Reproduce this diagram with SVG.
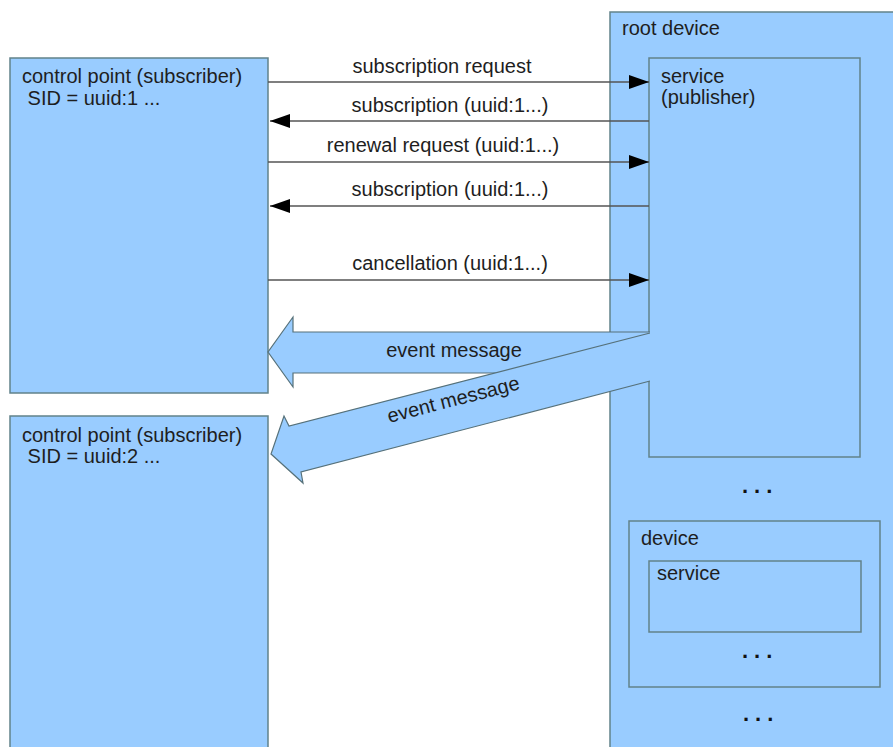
<svg xmlns="http://www.w3.org/2000/svg" width="893" height="747" viewBox="0 0 893 747">
  <style>
    .box { fill: #99ccff; stroke: #62828a; stroke-width: 1.5; }
    .fat { fill: #99ccff; stroke: #56717a; stroke-width: 1.2; stroke-linejoin: miter; }
    .line { stroke: #555555; stroke-width: 1.5; fill: none; }
    text { font-family: "Liberation Sans", Arial, sans-serif; font-size: 20px; fill: #1e1e1e; }
    .mid { text-anchor: middle; }
    .dots { font-weight: bold; font-size: 22px; letter-spacing: 6px; fill: #111; }
  </style>
  <defs>
    <marker id="ah" viewBox="0 0 20 14" refX="20" refY="7" markerWidth="20" markerHeight="14" markerUnits="userSpaceOnUse" orient="auto">
      <path d="M0,0 L20,7 L0,14 Z" fill="#000"/>
    </marker>
  </defs>

  <g id="root-device">
    <rect class="box" x="610" y="12" width="300" height="760"/>
    <text x="622" y="35">root device</text>
    <text class="dots" x="742" y="493">...</text>
    <text class="dots" x="743" y="721">...</text>
  </g>
  <g id="service-publisher">
    <rect class="box" x="649" y="58" width="211" height="399"/>
    <text x="661" y="83">service</text>
    <text x="661" y="104">(publisher)</text>
  </g>
  <g id="device">
    <rect class="box" x="629" y="521" width="251" height="166"/>
    <text x="641" y="545">device</text>
    <text class="dots" x="742" y="658">...</text>
  </g>
  <g id="service">
    <rect class="box" x="649" y="561" width="212" height="71"/>
    <text x="657" y="580">service</text>
  </g>
  <g id="control-point-1">
    <rect class="box" x="10" y="58" width="258" height="335"/>
    <text x="22" y="83">control point (subscriber)</text>
    <text x="22" y="105" xml:space="preserve"> SID = uuid:1 ...</text>
  </g>
  <g id="control-point-2">
    <rect class="box" x="10" y="416" width="258" height="340"/>
    <text x="22" y="442">control point (subscriber)</text>
    <text x="22" y="463" xml:space="preserve"> SID = uuid:2 ...</text>
  </g>

  <g id="connectors">
    <line class="line" x1="268" y1="82" x2="649" y2="82" marker-end="url(#ah)"/>
    <line class="line" x1="649" y1="121" x2="270" y2="121" marker-end="url(#ah)"/>
    <line class="line" x1="268" y1="162" x2="649" y2="162" marker-end="url(#ah)"/>
    <line class="line" x1="649" y1="206" x2="270" y2="206" marker-end="url(#ah)"/>
    <line class="line" x1="268" y1="280" x2="649" y2="280" marker-end="url(#ah)"/>
    <path class="fat" d="M650,332 L293,332 L293,317 L268,352 L293,387 L293,373 L650,373"/>
    <path class="fat" d="M650,333 L289,426 L284,416 L271,454 L303,483 L301,472 L650,381"/>
  </g>

  <g id="labels">
    <text class="mid" x="442" y="73">subscription request</text>
    <text class="mid" x="450" y="112">subscription (uuid:1...)</text>
    <text class="mid" x="443" y="152">renewal request (uuid:1...)</text>
    <text class="mid" x="450" y="196">subscription (uuid:1...)</text>
    <text class="mid" x="450" y="270">cancellation (uuid:1...)</text>
    <text class="mid" x="454" y="357">event message</text>
    <text class="mid" x="455" y="406" transform="rotate(-14.5 455 406)">event message</text>
  </g>
</svg>
